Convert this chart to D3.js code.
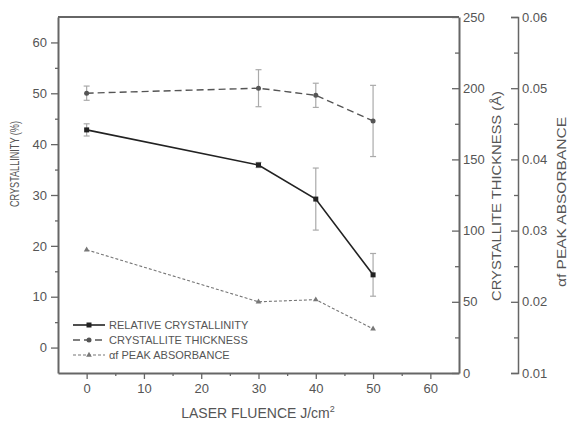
<!DOCTYPE html>
<html>
<head>
<meta charset="utf-8">
<script src="https://cdn.jsdelivr.net/npm/d3@7"></script>
<style>
  body { margin: 0; background: #fff; }
  text { font-family: "Liberation Sans", Arial, sans-serif; fill: #555; }
</style>
</head>
<body>
<svg id="chart" width="569" height="423"></svg>
<script>
// laser fluence (J/cm2)
const fluence = [0, 30, 40, 50];
// relative crystallinity (%), left axis
const crystallinity = [42.8, 35.9, 29.2, 14.3];
const crystallinityErr = [1.2, 0.5, 6.1, 4.2];
// crystallite thickness (A), right axis
const thickness = [196.5, 200, 195, 177];
const thicknessErr = [5, 13, 8.5, 25];
// alpha-f peak absorbance, far right axis
const absorbance = [0.0273, 0.0200, 0.0203, 0.0162];

const xTicks = [0, 10, 20, 30, 40, 50, 60];
const leftTicks = [0, 10, 20, 30, 40, 50, 60];
const rightTicks = [0, 50, 100, 150, 200, 250];
const absTicks = [0.01, 0.02, 0.03, 0.04, 0.05, 0.06];
const legendLabels = ["RELATIVE CRYSTALLINITY", "CRYSTALLITE THICKNESS", "\u03b1f PEAK ABSORBANCE"];

const svg = d3.select("#chart");
const L = 58, R = 459, T = 17, B = 373, R2 = 518;

const x = d3.scaleLinear().domain([-5, 65]).range([L, R]);
const yL = d3.scaleLinear().domain([-5, 65]).range([B, T]);
const yR = d3.scaleLinear().domain([0, 250]).range([B, T]);
const yA = d3.scaleLinear().domain([0.01, 0.06]).range([B, T]);

const axisColor = "#666";

let style_axis = function(g, width) {
  g.select(".domain").attr("stroke", axisColor).attr("stroke-width", width);
  g.selectAll(".tick line").attr("stroke", axisColor).attr("stroke-width", 1.3);
  g.selectAll(".tick text").attr("font-size", 13).attr("fill", "#777")
    .attr("font-family", "Liberation Sans, Arial, sans-serif");
};

// top frame line
svg.append("line").attr("x1", L).attr("x2", R).attr("y1", T).attr("y2", T)
  .attr("stroke", axisColor).attr("stroke-width", 2);

// bottom axis
svg.append("g").attr("transform", `translate(0,${B})`)
  .call(d3.axisBottom(x).tickValues(xTicks).tickSizeInner(6).tickSizeOuter(0).tickPadding(5))
  .call(g => style_axis(g, 2));
svg.append("g").attr("transform", `translate(0,${B})`)
  .call(d3.axisBottom(x).tickValues(d3.range(5, 60, 10)).tickSize(3).tickFormat(""))
  .call(g => g.select(".domain").remove())
  .call(g => g.selectAll(".tick line").attr("stroke", axisColor).attr("stroke-width", 1.3));

// left axis
svg.append("g").attr("transform", `translate(${L},0)`)
  .call(d3.axisLeft(yL).tickValues(leftTicks).tickSizeInner(7).tickSizeOuter(0).tickPadding(4))
  .call(g => style_axis(g, 2));
svg.append("g").attr("transform", `translate(${L},0)`)
  .call(d3.axisLeft(yL).tickValues(d3.range(5, 60, 10)).tickSize(3).tickFormat(""))
  .call(g => g.select(".domain").remove())
  .call(g => g.selectAll(".tick line").attr("stroke", axisColor).attr("stroke-width", 1.3));

// right axis (ticks inward)
svg.append("g").attr("transform", `translate(${R},0)`)
  .call(d3.axisRight(yR).tickValues(rightTicks).tickSizeInner(-7).tickSizeOuter(0).tickPadding(4))
  .call(g => style_axis(g, 2));
svg.append("g").attr("transform", `translate(${R},0)`)
  .call(d3.axisRight(yR).tickValues(d3.range(25, 250, 50)).tickSize(-4).tickFormat(""))
  .call(g => g.select(".domain").remove())
  .call(g => g.selectAll(".tick line").attr("stroke", axisColor).attr("stroke-width", 1.3));

// far right absorbance axis
svg.append("g").attr("transform", `translate(${R2},0)`)
  .call(d3.axisRight(yA).tickValues(absTicks).tickSizeInner(-7).tickSizeOuter(-7).tickPadding(4)
    .tickFormat(d3.format(".2f")))
  .call(g => style_axis(g, 1.5));
svg.append("g").attr("transform", `translate(${R2},0)`)
  .call(d3.axisRight(yA).tickValues(d3.range(0.015, 0.06, 0.01)).tickSize(-4).tickFormat(""))
  .call(g => g.select(".domain").remove())
  .call(g => g.selectAll(".tick line").attr("stroke", axisColor).attr("stroke-width", 1.3));

// axis titles
svg.append("text").attr("transform", "translate(19,164) rotate(-90)")
  .attr("text-anchor", "middle").attr("font-size", 13)
  .attr("textLength", 86).attr("lengthAdjust", "spacingAndGlyphs")
  .text("CRYSTALLINITY  (%)");
let xt = svg.append("text").attr("x", 258).attr("y", 418).attr("text-anchor", "middle")
  .attr("font-size", 14).text("LASER FLUENCE J/cm");
xt.append("tspan").attr("font-size", 9).attr("dy", -6).text("2");
svg.append("text").attr("transform", "translate(501,196) rotate(-90)")
  .attr("text-anchor", "middle").attr("font-size", 13)
  .attr("textLength", 210).attr("lengthAdjust", "spacingAndGlyphs")
  .text("CRYSTALLITE THICKNESS (\u00c5)");
svg.append("text").attr("transform", "translate(566,202) rotate(-90)")
  .attr("text-anchor", "middle").attr("font-size", 13)
  .attr("textLength", 170).attr("lengthAdjust", "spacingAndGlyphs")
  .text("\u03b1f PEAK ABSORBANCE");

// error bars
let draw_errors = function(vals, errs, yScale) {
  let g = svg.append("g");
  fluence.forEach(function(f, i) {
    let cx = x(f), y1 = yScale(vals[i] + errs[i]), y2 = yScale(vals[i] - errs[i]);
    g.append("line").attr("x1", cx).attr("x2", cx).attr("y1", y1).attr("y2", y2)
      .attr("stroke", "#aaa").attr("stroke-width", 1.2);
    [y1, y2].forEach(yy => g.append("line").attr("x1", cx - 3).attr("x2", cx + 3)
      .attr("y1", yy).attr("y2", yy).attr("stroke", "#aaa").attr("stroke-width", 1.2));
  });
};
draw_errors(crystallinity, crystallinityErr, yL);
draw_errors(thickness, thicknessErr, yR);

const series = [
  {vals: crystallinity, y: yL, color: "#222", dash: null, width: 1.6, marker: "square"},
  {vals: thickness, y: yR, color: "#555", dash: "7,4", width: 1.4, marker: "circle"},
  {vals: absorbance, y: yA, color: "#777", dash: "3,2", width: 1.1, marker: "triangle"}
];

let draw_marker = function(g, kind, cx, cy, color) {
  if (kind === "square") {
    g.append("rect").attr("x", cx - 2.5).attr("y", cy - 2.5).attr("width", 5).attr("height", 5).attr("fill", color);
  } else if (kind === "circle") {
    g.append("circle").attr("cx", cx).attr("cy", cy).attr("r", 2.5).attr("fill", color);
  } else {
    g.append("path").attr("transform", `translate(${cx},${cy})`)
      .attr("d", d3.symbol(d3.symbolTriangle, 14)()).attr("fill", color);
  }
};

series.forEach(function(s) {
  let line = d3.line().x((d, i) => x(fluence[i])).y(d => s.y(d));
  svg.append("path").datum(s.vals).attr("d", line).attr("fill", "none")
    .attr("stroke", s.color).attr("stroke-width", s.width)
    .attr("stroke-dasharray", s.dash);
  let g = svg.append("g");
  s.vals.forEach((v, i) => draw_marker(g, s.marker, x(fluence[i]), s.y(v), s.color));
});

// legend
const legend = svg.append("g");
series.forEach(function(s, i) {
  let ly = 325 + i * 15;
  legend.append("line").attr("x1", 73).attr("x2", 105).attr("y1", ly).attr("y2", ly)
    .attr("stroke", s.color).attr("stroke-width", s.width).attr("stroke-dasharray", s.dash);
  draw_marker(legend, s.marker, 89, ly, s.color);
  legend.append("text").attr("x", 109).attr("y", ly + 4).attr("font-size", 11)
    .attr("fill", "#555").text(legendLabels[i]);
});
</script>
</body>
</html>
